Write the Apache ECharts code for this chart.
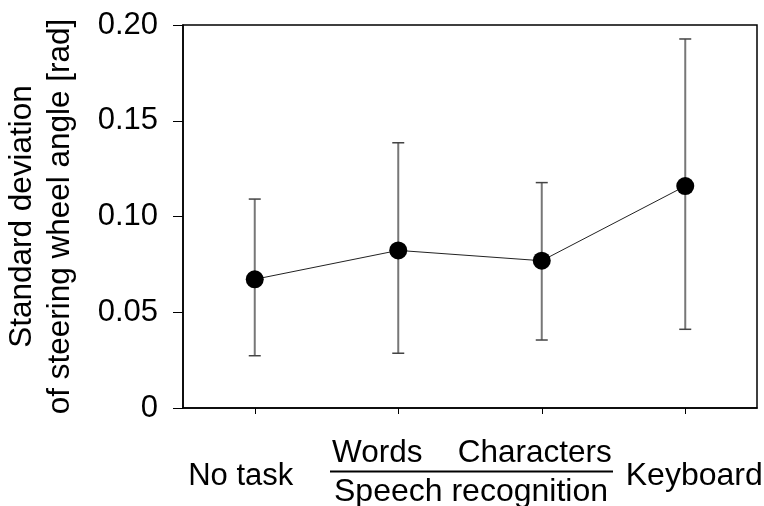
<!DOCTYPE html>
<html>
<head>
<meta charset="utf-8">
<script src="https://cdn.jsdelivr.net/npm/echarts@6/dist/echarts.min.js"></script>
<style>
  html, body { margin: 0; padding: 0; background: #fff; }
  #chart { width: 764px; height: 506px; }
</style>
</head>
<body>
<div id="chart"></div>
<script>
// values
const categories = ['No task', 'Words', 'Characters', 'Keyboard']
const meanValues = [0.0672, 0.0823, 0.0769, 0.1159]
const lowerValues = [0.0273, 0.0286, 0.0355, 0.0411]
const upperValues = [0.1091, 0.1385, 0.1177, 0.1927]

const FONT = '"Liberation Sans", Arial, Helvetica, sans-serif'

const errorData = categories.map((c, i) => [i, lowerValues[i], upperValues[i]])

// label placement per category (speech recognition ones sit higher)
const labelKey = ['nt', 'wd', 'ch', 'kb']

const chart = echarts.init(document.getElementById('chart'))
chart.setOption({
  animation: false,
  backgroundColor: '#fff',
  textStyle: { fontFamily: FONT },
  grid: {
    left: 183,
    right: 7,
    top: 25,
    bottom: 98,
    show: true,
    borderColor: '#000',
    borderWidth: 1.5,
    outerBoundsMode: 'none'
  },
  xAxis: {
    type: 'category',
    data: categories,
    axisLine: { lineStyle: { color: '#000', width: 1.5 } },
    axisTick: { show: true, alignWithLabel: true, interval: 0, length: 6, lineStyle: { color: '#000', width: 1 } },
    axisLabel: {
      margin: 30,
      interval: 0,
      hideOverlap: false,
      formatter: (v, i) => '{' + labelKey[i] + '|' + v + '}',
      rich: {
        nt: { fontSize: 31, lineHeight: 31, color: '#000', fontFamily: FONT, padding: [46, 28, 0, 0] },
        wd: { fontSize: 31.5, lineHeight: 31, color: '#000', fontFamily: FONT, padding: [0, 42, 0, 0] },
        ch: { fontSize: 31.5, lineHeight: 31, color: '#000', fontFamily: FONT, padding: [0, 14, 0, 0] },
        kb: { fontSize: 32, lineHeight: 31, color: '#000', fontFamily: FONT, padding: [46, 0, 0, 18] }
      }
    }
  },
  yAxis: {
    type: 'value',
    min: 0,
    max: 0.2,
    interval: 0.05,
    name: 'Standard deviation\nof steering wheel angle [rad]',
    nameLocation: 'middle',
    nameRotate: 90,
    nameGap: 104,
    nameTextStyle: {
      fontSize: 31.5,
      lineHeight: 38,
      color: '#000',
      fontFamily: FONT
    },
    splitLine: { show: false },
    axisLine: { show: true, lineStyle: { color: '#000', width: 1.5 } },
    axisTick: { show: true, length: 10, lineStyle: { color: '#000', width: 1 } },
    axisLabel: {
      margin: 25,
      fontSize: 31,
      color: '#000',
      fontFamily: FONT,
      formatter: v => (v === 0 ? '0' : v.toFixed(2))
    }
  },
  graphic: [
    {
      type: 'line',
      shape: { x1: 330, y1: 471.5, x2: 613, y2: 471.5 },
      style: { stroke: '#000', lineWidth: 2 }
    },
    {
      type: 'text',
      style: {
        x: 471,
        y: 492,
        text: 'Speech recognition',
        align: 'center',
        verticalAlign: 'middle',
        font: '32px ' + FONT,
        fill: '#000'
      }
    }
  ],
  series: [
    {
      type: 'custom',
      data: errorData,
      z: 2,
      renderItem: (params, api) => {
        const lo = api.coord([api.value(0), api.value(1)])
        const hi = api.coord([api.value(0), api.value(2)])
        const hw = 6
        return {
          type: 'group',
          children: [
            { type: 'line', shape: { x1: lo[0], y1: lo[1], x2: hi[0], y2: hi[1] }, style: { stroke: '#777', lineWidth: 2 } },
            { type: 'line', shape: { x1: hi[0] - hw, y1: hi[1], x2: hi[0] + hw, y2: hi[1] }, style: { stroke: '#444', lineWidth: 1.5 } },
            { type: 'line', shape: { x1: lo[0] - hw, y1: lo[1], x2: lo[0] + hw, y2: lo[1] }, style: { stroke: '#444', lineWidth: 1.5 } }
          ]
        }
      }
    },
    {
      type: 'line',
      data: meanValues,
      z: 3,
      symbol: 'circle',
      symbolSize: 18,
      itemStyle: { color: '#000' },
      lineStyle: { color: '#222', width: 1 }
    }
  ]
})
</script>
</body>
</html>
